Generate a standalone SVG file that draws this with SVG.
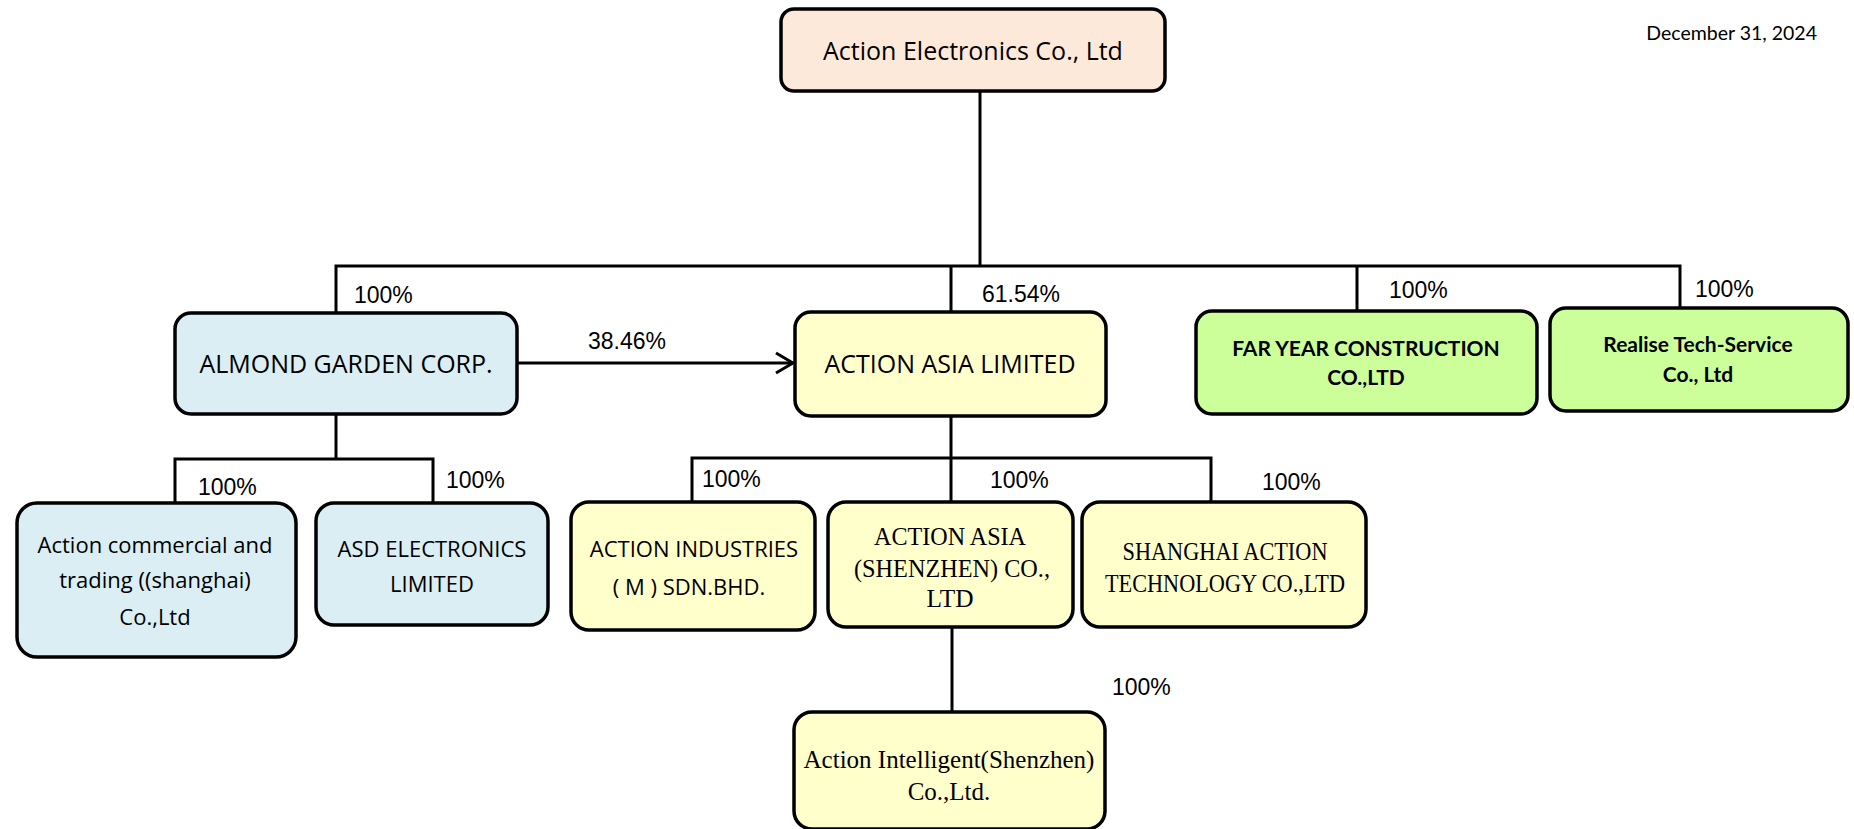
<svg xmlns="http://www.w3.org/2000/svg" width="1854" height="829" viewBox="0 0 1854 829">
<defs>
<style>
.box{stroke:#000;stroke-width:3.5}
.peach{fill:#fde9d9}
.blue{fill:#daeef3}
.yellow{fill:#ffffcc}
.green{fill:#ccff99}
.sans{font-family:"Open Sans","Noto Sans",sans-serif;fill:#000;text-anchor:middle}
.serif{font-family:"Liberation Serif","DejaVu Serif",serif;fill:#000;text-anchor:middle}
.bold{font-family:Lato,"Liberation Sans",sans-serif;font-weight:bold;fill:#000;text-anchor:middle;font-size:21px}
.pct{font-family:"Liberation Sans",Arial,sans-serif;font-size:23px;fill:#000}
.line{stroke:#000;stroke-width:3;fill:none}
</style>
<marker id="open" markerWidth="20" markerHeight="24" refX="18" refY="12" orient="auto" markerUnits="userSpaceOnUse">
<path d="M1,2 L18,12 L1,22" fill="none" stroke="#000" stroke-width="3"/>
</marker>
</defs>
<rect width="1854" height="829" fill="#fff"/>
<text x="1817" y="40" font-family="Lato,'Liberation Sans',sans-serif" font-size="19.5" text-anchor="end">December 31, 2024</text>

<g id="connectors">
<path class="line" d="M980,91 V266"/>
<path class="line" d="M336,313 V266 H1680 V309"/>
<path class="line" d="M951,266 V312"/>
<path class="line" d="M1357,266 V311"/>
<path class="line" d="M517,363 H793" marker-end="url(#open)"/>
<path class="line" d="M336,414 V459"/>
<path class="line" d="M175,503 V459 H433 V503"/>
<path class="line" d="M951,416 V502"/>
<path class="line" d="M692,502 V458 H1211 V502"/>
<path class="line" d="M952,627 V712"/>
</g>

<g id="labels">
<text class="pct" x="354" y="303">100%</text>
<text class="pct" x="982" y="302">61.54%</text>
<text class="pct" x="588" y="349">38.46%</text>
<text class="pct" x="1389" y="298">100%</text>
<text class="pct" x="1695" y="297">100%</text>
<text class="pct" x="198" y="495">100%</text>
<text class="pct" x="446" y="488">100%</text>
<text class="pct" x="702" y="487">100%</text>
<text class="pct" x="990" y="488">100%</text>
<text class="pct" x="1262" y="490">100%</text>
<text class="pct" x="1112" y="695">100%</text>
</g>

<g id="n-action-electronics">
<rect class="box peach" x="781" y="9" width="384" height="82" rx="13"/>
<text class="sans" x="973" y="60" font-size="25">Action Electronics Co., Ltd</text>
</g>

<g id="n-almond">
<rect class="box blue" x="175" y="313" width="342" height="101" rx="16"/>
<text class="sans" x="346" y="373" font-size="25">ALMOND GARDEN CORP.</text>
</g>

<g id="n-action-asia">
<rect class="box yellow" x="795" y="312" width="311" height="104" rx="16"/>
<text class="sans" x="950" y="373" font-size="25">ACTION ASIA LIMITED</text>
</g>

<g id="n-far-year">
<rect class="box green" x="1196" y="311" width="341" height="103" rx="16"/>
<text class="bold" x="1366" y="356">FAR YEAR CONSTRUCTION</text>
<text class="bold" x="1366" y="385">CO.,LTD</text>
</g>

<g id="n-realise">
<rect class="box green" x="1550" y="308" width="298" height="103" rx="16"/>
<text class="bold" x="1698" y="352">Realise Tech-Service</text>
<text class="bold" x="1698" y="382">Co., Ltd</text>
</g>

<g id="n-action-commercial">
<rect class="box blue" x="17" y="503" width="279" height="154" rx="20"/>
<text class="sans" x="155" y="553" font-size="22">Action commercial and</text>
<text class="sans" x="155" y="588" font-size="22">trading ((shanghai)</text>
<text class="sans" x="155" y="625" font-size="22">Co.,Ltd</text>
</g>

<g id="n-asd">
<rect class="box blue" x="316" y="503" width="232" height="122" rx="18"/>
<text class="sans" x="432" y="557" font-size="22">ASD ELECTRONICS</text>
<text class="sans" x="432" y="592" font-size="22">LIMITED</text>
</g>

<g id="n-action-industries">
<rect class="box yellow" x="571" y="502" width="244" height="128" rx="18"/>
<text class="sans" x="694" y="557" font-size="22">ACTION INDUSTRIES</text>
<text class="sans" x="689" y="595" font-size="22">( M ) SDN.BHD.</text>
</g>

<g id="n-action-asia-shenzhen">
<rect class="box yellow" x="828" y="502" width="245" height="125" rx="18"/>
<text class="serif" x="950" y="545" font-size="25" textLength="152" lengthAdjust="spacingAndGlyphs">ACTION ASIA</text>
<text class="serif" x="952" y="577" font-size="25" textLength="196" lengthAdjust="spacingAndGlyphs">(SHENZHEN) CO.,</text>
<text class="serif" x="950" y="607" font-size="25" textLength="47" lengthAdjust="spacingAndGlyphs">LTD</text>
</g>

<g id="n-shanghai-action">
<rect class="box yellow" x="1082" y="502" width="284" height="125" rx="18"/>
<text class="serif" x="1225" y="560" font-size="25" textLength="205" lengthAdjust="spacingAndGlyphs">SHANGHAI ACTION</text>
<text class="serif" x="1225" y="592" font-size="25" textLength="240" lengthAdjust="spacingAndGlyphs">TECHNOLOGY CO.,LTD</text>
</g>

<g id="n-action-intelligent">
<rect class="box yellow" x="794" y="712" width="311" height="117" rx="18"/>
<text class="serif" x="949" y="768" font-size="25">Action Intelligent(Shenzhen)</text>
<text class="serif" x="949" y="800" font-size="25">Co.,Ltd.</text>
</g>
</svg>
